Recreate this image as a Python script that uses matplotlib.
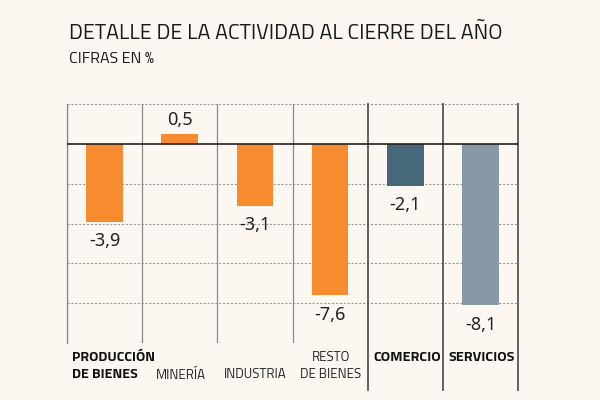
import matplotlib
matplotlib.use('Agg')
import matplotlib.pyplot as plt
from matplotlib import font_manager

# 数据
categories = ['PRODUCCIÓN\nDE BIENES', 'MINERÍA', 'INDUSTRIA', 'RESTO\nDE BIENES', 'COMERCIO', 'SERVICIOS']
values = [-3.9, 0.5, -3.1, -7.6, -2.1, -8.1]
value_labels = ['-3,9', '0,5', '-3,1', '-7,6', '-2,1', '-8,1']
bar_colors = ['#F68B2F', '#F68B2F', '#F68B2F', '#F68B2F', '#46687A', '#8799A6']
bold_cats = [True, False, False, False, True, True]

BG = '#FDF7F1'
names = {f.name for f in font_manager.fontManager.ttflist}
cond = 'DejaVu Sans'
for cand in ['Titillium Web', 'Barlow Semi Condensed', 'Asap Condensed', 'Liberation Sans']:
    if cand in names:
        cond = cand
        break
num_font = 'Noto Sans' if 'Noto Sans' in names else 'DejaVu Sans'

fig = plt.figure(figsize=(6, 4), dpi=100, facecolor=BG)
ax = fig.add_axes([67 / 600, 1 - 343 / 400, 451 / 600, 239 / 400])
ax.set_facecolor(BG)

x = [i + 0.5 for i in range(len(values))]
ax.bar(x, values, width=0.49, color=bar_colors, zorder=3)

ax.set_xlim(0, 6)
ax.set_ylim(-10, 2)

# 虚线网格
for y in [2, -2, -4, -6, -8, -10]:
    ax.axhline(y, color='#9a9a9a', linestyle=(0, (2, 1.5)), linewidth=0.8, zorder=1)
ax.axhline(0, color='#222222', linewidth=1.2, zorder=4)

# 竖线
for i in range(4):
    ax.axvline(i, ymin=0, ymax=1, color='#8a8a8a', linewidth=0.9, zorder=2)
for i in [4, 5, 6]:
    ax.axvline(i, ymin=-47 / 239, ymax=1, color='#555555', linewidth=1.3,
               zorder=2, clip_on=False)

# 数值标签
for xi, v, lab in zip(x, values, value_labels):
    off = 10 if v >= 0 else -14
    ax.annotate(lab, (xi, v), xytext=(0, off), textcoords='offset points',
                ha='center', va='center', fontsize=13, family=num_font,
                color='#222222', zorder=5)

# 分类标签 (y in data units: -10 -> 343px, 20px per unit)
y_line1 = -10 - (358 - 343) / 20
y_line2 = -10 - (375 - 343) / 20
for i, (cat, b) in enumerate(zip(categories, bold_cats)):
    w = 'bold' if b else 'normal'
    if i == 0:
        ax.text(0.07, y_line1, 'PRODUCCIÓN', ha='left', va='center', fontsize=10.3,
                family=cond, fontweight=w, color='#111111')
        ax.text(0.07, y_line2, 'DE BIENES', ha='left', va='center', fontsize=10.3,
                family=cond, fontweight=w, color='#111111')
    elif i in (1, 2):
        ax.text(x[i] + 0.01, y_line2, cat, ha='center', va='center', fontsize=9.5,
                family=cond, fontweight=w, color='#222222')
    elif i == 3:
        ax.text(x[i] + 0.01, y_line1, 'RESTO', ha='center', va='center', fontsize=9.5,
                family=cond, fontweight=w, color='#222222')
        ax.text(x[i] + 0.01, y_line2, 'DE BIENES', ha='center', va='center', fontsize=9.5,
                family=cond, fontweight=w, color='#222222')
    else:
        ax.text(x[i] + 0.02, y_line1, cat, ha='center', va='center', fontsize=10.4,
                family=cond, fontweight=w, color='#111111')

for s in ax.spines.values():
    s.set_visible(False)
ax.spines['left'].set_visible(True)
ax.spines['left'].set_color('#8a8a8a')
ax.spines['left'].set_linewidth(0.9)
ax.set_xticks([])
ax.set_yticks([])

fig.text(69 / 600, 1 - 39 / 400, 'DETALLE DE LA ACTIVIDAD AL CIERRE DEL AÑO',
         fontsize=15.5, family=cond, color='#1a1a1a', va='baseline')
fig.text(69 / 600, 1 - 63 / 400, 'CIFRAS EN %', fontsize=11.5, family=cond,
         color='#1a1a1a', va='baseline')

plt.savefig('out.png', dpi=100, facecolor=BG)
